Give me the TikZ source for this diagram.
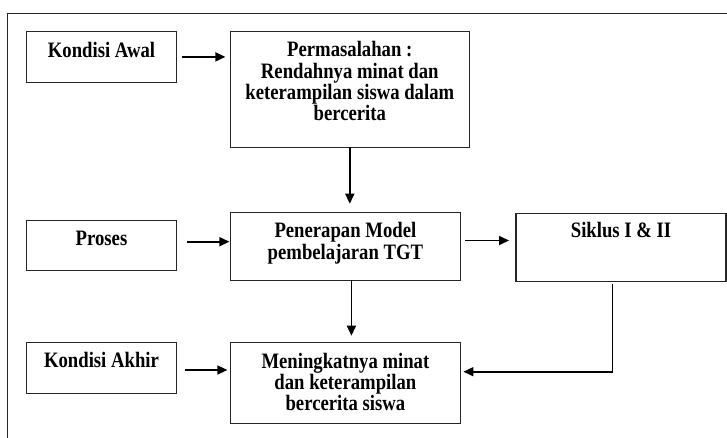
\documentclass[tikz,border=0pt]{standalone}
\usepackage{fontspec}
\setmainfont[FakeStretch=0.85]{Liberation Serif}
\usetikzlibrary{arrows.meta}
\newcommand{\bxt}[4]{\parbox[c][#2pt][t]{#1pt}{\centering\fontsize{22}{21.3}\selectfont\bfseries\rule{0pt}{#3pt}#4}}
\tikzset{
  blk/.style={draw=black!85, line width=1.1pt, inner sep=0pt, outer sep=0pt, rectangle},
  arr/.style={draw=black, line width=1.6pt, -{Triangle[length=10pt,width=9pt]}},
  frm/.style={draw=black!85, line width=1.4pt}
}
\begin{document}
\begin{tikzpicture}[x=1pt,y=-1pt]
\useasboundingbox (0,0) rectangle (727,437);
\fill[white] (0,0) rectangle (727,437);
% outer frame (only top and left visible)
\draw[frm] (7.5,440) -- (7.5,13.5) -- (730,13.5);
% boxes
\node[blk] (ka) at (101.5,56.9) {\bxt{150.2}{50.3}{25.3}{Kondisi Awal}};
\node[blk] (perm) at (349.8,89.4) {\bxt{238.8}{115.3}{25}{Permasalahan :\\ Rendahnya minat dan\\ keterampilan siswa dalam\\ bercerita}};
\node[blk] (pros) at (101.5,245.2) {\bxt{150.2}{50.3}{25.3}{Proses}};
\node[blk] (pen) at (345.4,246.5) {\bxt{230}{67.6}{25}{Penerapan Model\\ pembelajaran TGT}};
\node[blk] (sik) at (621,247.5) {\bxt{210}{68.4}{24.5}{Siklus I \& II}};
\node[blk] (kak) at (101.5,368) {\bxt{150.2}{50.6}{25}{Kondisi Akhir}};
\node[blk] (men) at (345.4,383.3) {\bxt{230}{81.2}{25.5}{Meningkatnya minat\\ dan keterampilan\\ bercerita siswa}};
% connectors
\draw[arr] ([xshift=5pt]ka.east) -- ([xshift=-5pt]perm.west |- ka.east);
\draw[arr] (perm.south) -- ([yshift=9pt]perm.south |- pen.north);
\draw[arr] ([xshift=10pt,yshift=3.5pt]pros.east) -- ([xshift=-1pt,yshift=3.5pt]pros.east -| pen.west);
\draw[arr] ([xshift=5pt,yshift=6pt]pen.east) -- ([xshift=-7pt,yshift=6pt]pen.east -| sik.west);
\draw[arr] ([xshift=6pt]pen.south) -- ([xshift=6pt,yshift=7pt]pen.south |- men.north);
\draw[arr] ([xshift=8pt,yshift=-2pt]kak.east) -- ([xshift=-3pt,yshift=-2pt]kak.east -| men.west);
\coordinate (turn) at (612.3,371.7);
\draw[arr] ([xshift=-8.7pt,yshift=-2pt]sik.south) -- (turn) -- ([xshift=3pt]men.east |- turn);
\end{tikzpicture}
\end{document}
